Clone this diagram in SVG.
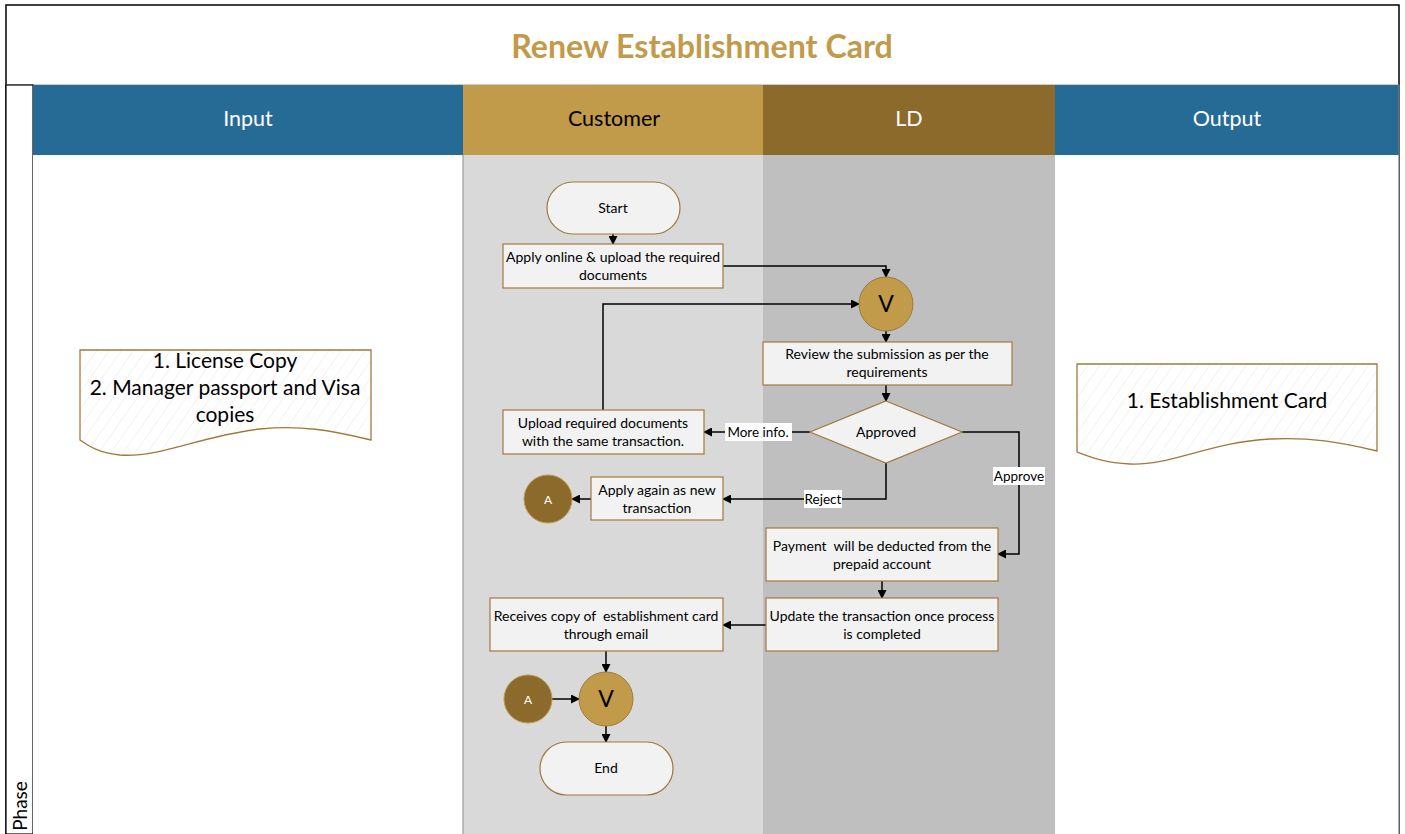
<svg xmlns="http://www.w3.org/2000/svg" width="1405" height="834" viewBox="0 0 1405 834">
<style>
.t{font-family:Lato,"Open Sans","Liberation Sans",sans-serif;}
.n{font-size:14px;fill:#000;text-anchor:middle;}
.pre{white-space:pre;}
.box{fill:#F2F2F2;stroke:#A07A3C;stroke-width:1.2;}
.hd{font-size:21.5px;text-anchor:middle;}
.ln{fill:none;stroke:#000;stroke-width:1.5;}
.lbl{fill:#fff;}
.doc{fill:url(#hatch);stroke:#A07A3C;stroke-width:1.3;}
</style>
<defs>
<marker id="ah" markerWidth="9" markerHeight="9" refX="8" refY="4.5" orient="auto" markerUnits="userSpaceOnUse">
<path d="M0,0 L9,4.5 L0,9 Z" fill="#000"/>
</marker>
<pattern id="hatch" patternUnits="userSpaceOnUse" width="10" height="10" patternTransform="rotate(35)">
<rect width="10" height="10" fill="#fff"/>
<line x1="0" y1="0" x2="0" y2="10" stroke="#EAEAEA" stroke-width="1.2"/>
</pattern>
</defs>

<g id="frame">
<rect x="6" y="5" width="1393" height="829" fill="#fff" stroke="#000" stroke-width="1.5"/>
<line x1="6" y1="85" x2="1399" y2="85" stroke="#999" stroke-width="1"/>
<text class="t" x="702" y="58" font-size="32.2" font-weight="bold" fill="#C19A4A" text-anchor="middle">Renew Establishment Card</text>
<rect x="6" y="85" width="27" height="749" fill="#fff" stroke="#000" stroke-width="1.2"/>
<text class="t" transform="translate(27,806) rotate(-90)" font-size="19" text-anchor="middle" fill="#000">Phase</text>
</g>

<g id="lanes">
<rect x="33" y="85" width="430" height="70" fill="#266B96"/>
<rect x="463" y="85" width="300" height="70" fill="#C19A4A"/>
<rect x="763" y="85" width="292" height="70" fill="#8B6A2B"/>
<rect x="1055" y="85" width="344" height="70" fill="#266B96"/>
<rect x="33" y="155" width="430" height="679" fill="#fff"/>
<rect x="463" y="155" width="300" height="679" fill="#D9D9D9"/>
<rect x="763" y="155" width="292" height="679" fill="#BFBFBF"/>
<rect x="1055" y="155" width="344" height="679" fill="#fff"/>
<line x1="463" y1="155" x2="463" y2="834" stroke="#8c8c8c" stroke-width="1"/>
<line x1="1399" y1="85" x2="1399" y2="834" stroke="#777" stroke-width="1.2"/>
<text class="t hd" x="248" y="126" fill="#fff">Input</text>
<text class="t hd" x="614" y="126" fill="#000">Customer</text>
<text class="t hd" x="909" y="126" fill="#fff">LD</text>
<text class="t hd" x="1227" y="126" fill="#fff">Output</text>
</g>

<g id="connectors">
<path class="ln" d="M613,234 L613,244" marker-end="url(#ah)"/>
<path class="ln" d="M723,266 L886,266 L886,277" marker-end="url(#ah)"/>
<path class="ln" d="M603,410 L603,304 L859,304" marker-end="url(#ah)"/>
<path class="ln" d="M886,331 L886,342" marker-end="url(#ah)"/>
<path class="ln" d="M886,385 L886,401" marker-end="url(#ah)"/>
<path class="ln" d="M810,432 L704,432" marker-end="url(#ah)"/>
<path class="ln" d="M886,463 L886,499 L723,499" marker-end="url(#ah)"/>
<path class="ln" d="M591,499 L572,499" marker-end="url(#ah)"/>
<path class="ln" d="M962,432 L1019,432 L1019,554 L998,554" marker-end="url(#ah)"/>
<path class="ln" d="M882,581 L882,598" marker-end="url(#ah)"/>
<path class="ln" d="M766,625 L723,625" marker-end="url(#ah)"/>
<path class="ln" d="M606,651 L606,672" marker-end="url(#ah)"/>
<path class="ln" d="M552,699 L579,699" marker-end="url(#ah)"/>
<path class="ln" d="M606,726 L606,742" marker-end="url(#ah)"/>
<rect class="lbl" x="725" y="423" width="67" height="18"/>
<text class="t" x="758" y="437" font-size="13.5" text-anchor="middle">More info.</text>
<rect class="lbl" x="804" y="490" width="38" height="18"/>
<text class="t" x="823" y="504" font-size="13.5" text-anchor="middle">Reject</text>
<rect class="lbl" x="993" y="467" width="52" height="18"/>
<text class="t" x="1019" y="481" font-size="13.5" text-anchor="middle">Approve</text>
</g>

<g id="input-doc">
<path class="doc" d="M80,350 L371,350 L371,440 C330,430 300,425 260,429 C200,436 160,458 120,455 C100,453 90,447 80,440 Z"/>
<text class="t" x="225" y="368" font-size="21" text-anchor="middle">1. License Copy</text>
<text class="t" x="225" y="395" font-size="21" text-anchor="middle">2. Manager passport and Visa</text>
<text class="t" x="225" y="422" font-size="21" text-anchor="middle">copies</text>
</g>

<g id="output-doc">
<path class="doc" d="M1077,364 L1377,364 L1377,451 C1340,442 1310,437 1270,439 C1210,442 1170,466 1130,464 C1105,463 1090,457 1077,452 Z"/>
<text class="t" x="1227" y="408" font-size="21" text-anchor="middle">1. Establishment Card</text>
</g>

<g id="start">
<rect class="box" x="547" y="182" width="133" height="52" rx="26"/>
<text class="t n" x="613" y="213">Start</text>
</g>

<g id="apply-online">
<rect class="box" x="503" y="244" width="220" height="44"/>
<text class="t n" x="613" y="262">Apply online &amp; upload the required</text>
<text class="t n" x="613" y="280">documents</text>
</g>

<g id="verify1">
<circle cx="886" cy="304" r="27" fill="#C19A4A" stroke="#A07A3C" stroke-width="1"/>
<text class="t" x="886" y="312" font-size="23" text-anchor="middle">V</text>
</g>

<g id="review">
<rect class="box" x="763" y="342" width="249" height="43"/>
<text class="t n" x="887" y="359">Review the submission as per the</text>
<text class="t n" x="887" y="377">requirements</text>
</g>

<g id="approved">
<path class="box" d="M886,401 L962,432 L886,463 L810,432 Z"/>
<text class="t n" x="886" y="437">Approved</text>
</g>

<g id="upload">
<rect class="box" x="503" y="410" width="201" height="44"/>
<text class="t n" x="603" y="428">Upload required documents</text>
<text class="t n" x="603" y="446">with the same transaction.</text>
</g>

<g id="apply-again">
<rect class="box" x="591" y="477" width="132" height="43"/>
<text class="t n" x="657" y="495">Apply again as new</text>
<text class="t n" x="657" y="513">transaction</text>
</g>

<g id="a1">
<circle cx="548" cy="499" r="24" fill="#8B6A2B" stroke="#C19A4A" stroke-width="1"/>
<text class="t" x="548" y="504" font-size="12" fill="#fff" text-anchor="middle">A</text>
</g>

<g id="payment">
<rect class="box" x="766" y="528" width="232" height="53"/>
<text class="t n pre" x="882" y="551">Payment  will be deducted from the</text>
<text class="t n" x="882" y="569">prepaid account</text>
</g>

<g id="update">
<rect class="box" x="766" y="598" width="232" height="53"/>
<text class="t n" x="882" y="621">Update the transaction once process</text>
<text class="t n" x="882" y="639">is completed</text>
</g>

<g id="receives">
<rect class="box" x="490" y="598" width="233" height="53"/>
<text class="t n pre" x="606" y="621">Receives copy of  establishment card</text>
<text class="t n" x="606" y="639">through email</text>
</g>

<g id="a2">
<circle cx="528" cy="699" r="24" fill="#8B6A2B" stroke="#C19A4A" stroke-width="1"/>
<text class="t" x="528" y="704" font-size="12" fill="#fff" text-anchor="middle">A</text>
</g>

<g id="verify2">
<circle cx="606" cy="699" r="27" fill="#C19A4A" stroke="#A07A3C" stroke-width="1"/>
<text class="t" x="606" y="707" font-size="23" text-anchor="middle">V</text>
</g>

<g id="end">
<rect class="box" x="540" y="742" width="133" height="53" rx="26.5"/>
<text class="t n" x="606" y="773">End</text>
</g>
</svg>
